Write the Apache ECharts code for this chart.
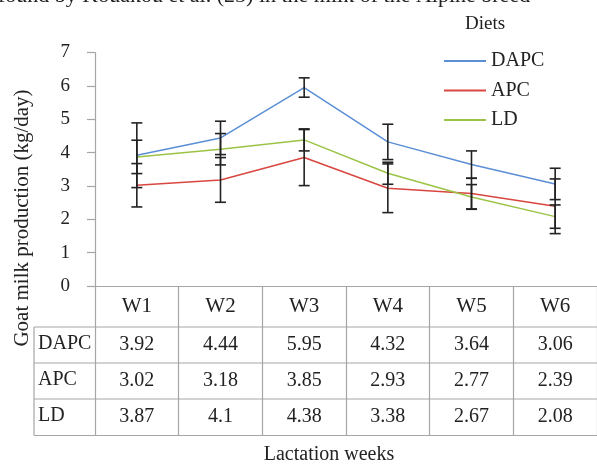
<!DOCTYPE html>
<html>
<head>
<meta charset="utf-8">
<script src="https://cdn.jsdelivr.net/npm/echarts@6/dist/echarts.min.js"></script>
<style>
html,body{margin:0;padding:0;background:#fff;}
#chart{width:597px;height:466px;}
</style>
</head>
<body>
<div id="chart"></div>
<script>
var weeks = ['W1','W2','W3','W4','W5','W6'];
var dietNames = ['DAPC','APC','LD'];
var dapc = [3.92, 4.44, 5.95, 4.32, 3.64, 3.06];
var apc  = [3.02, 3.18, 3.85, 2.93, 2.77, 2.39];
var ld   = [3.87, 4.1, 4.38, 3.38, 2.67, 2.08];
var dapcErr = [0.97, 0.50, 0.29, 0.53, 0.41, 0.47];
var apcErr  = [0.65, 0.67, 0.84, 0.73, 0.46, 0.82];
var ldErr   = [0.50, 0.47, 0.33, 0.33, 0.37, 0.35];
var yTicks = [0,1,2,3,4,5,6,7];

var FONT = 'Liberation Serif';
var colors = ['#5a8fd6', '#d9463f', '#9bc346'];
var means = [dapc, apc, ld];
var errs = [dapcErr, apcErr, ldErr];

var chart = echarts.init(document.getElementById('chart'));

function errData(m, e) {
  return m.map(function (v, i) { return [i, v - e[i], v + e[i]]; });
}
function renderErr(params, api) {
  var x = api.value(0);
  var lo = api.coord([x, api.value(1)]);
  var hi = api.coord([x, api.value(2)]);
  var w = 5.5;
  var st = { stroke: '#222', lineWidth: 1.6 };
  return {
    type: 'group',
    children: [
      { type: 'line', shape: { x1: hi[0], y1: hi[1], x2: lo[0], y2: lo[1] }, style: st },
      { type: 'line', shape: { x1: hi[0] - w, y1: hi[1], x2: hi[0] + w, y2: hi[1] }, style: st },
      { type: 'line', shape: { x1: lo[0] - w, y1: lo[1], x2: lo[0] + w, y2: lo[1] }, style: st }
    ]
  };
}

var series = [];
dietNames.forEach(function (n, k) {
  series.push({
    name: n, type: 'line', data: means[k], showSymbol: false, symbol: 'none',
    lineStyle: { color: colors[k], width: 1.5 }, itemStyle: { color: colors[k] },
    z: 2, animation: false
  });
});
dietNames.forEach(function (n, k) {
  series.push({
    name: n + ' err', type: 'custom', data: errData(means[k], errs[k]),
    renderItem: renderErr, z: 5, animation: false, silent: true
  });
});

var option = {
  animation: false,
  grid: { left: 95, top: 52.5, width: 512, height: 233.5 },
  xAxis: {
    type: 'category', data: weeks, boundaryGap: true,
    axisLine: { lineStyle: { color: '#a6a6a6', width: 1.2 } },
    axisTick: { show: true, length: 150, lineStyle: { color: '#a6a6a6', width: 1.2 } },
    axisLabel: {
      margin: 0, interval: 0,
      formatter: function (val, idx) {
        return '{h|' + val + '}\n{v|' + dapc[idx] + '}\n{v|' + apc[idx] + '}\n{v|' + ld[idx] + '}';
      },
      rich: {
        h: { fontFamily: FONT, fontSize: 21, color: '#222', lineHeight: 41 },
        v: { fontFamily: FONT, fontSize: 20, color: '#222', lineHeight: 36 }
      }
    },
    splitLine: { show: false }
  },
  yAxis: {
    type: 'value', min: 0, max: 7, interval: 1,
    axisLine: { show: true, lineStyle: { color: '#a6a6a6', width: 1.2 } },
    axisTick: { show: true, length: 8, lineStyle: { color: '#a6a6a6', width: 1.2 } },
    axisLabel: {
      margin: 25, fontFamily: FONT, fontSize: 19, color: '#222',
      formatter: function (v) { return yTicks.indexOf(v) >= 0 ? String(v) : ''; }
    },
    splitLine: { show: false }
  },
  legend: {
    data: dietNames, orient: 'vertical', left: 439, top: 46,
    icon: 'rect', itemWidth: 42, itemHeight: 2, itemGap: 9.5,
    textStyle: { fontFamily: FONT, fontSize: 20, color: '#222', lineHeight: 20 }
  },
  series: series
};
chart.setOption(option);

// table lines and texts
var base = chart.convertToPixel({ yAxisIndex: 0 }, 0);
var rowOffsets = [41, 77, 113, 149.5];
var gfx = [];
var lineSt = { stroke: '#a6a6a6', lineWidth: 1.2 };
rowOffsets.forEach(function (o) {
  gfx.push({ type: 'line', shape: { x1: 34, y1: base + o, x2: 610, y2: base + o }, style: lineSt, silent: true });
});
gfx.push({ type: 'line', shape: { x1: 34, y1: base + 41, x2: 34, y2: base + 149.5 }, style: lineSt, silent: true });
dietNames.forEach(function (n, k) {
  gfx.push({
    type: 'text', x: 38, y: base + 41 + 36 * k + 17,
    style: { text: n, fontFamily: FONT, fontSize: 20, fill: '#222', align: 'left', verticalAlign: 'middle' }, silent: true
  });
});
gfx.push({
  type: 'text', x: 485, y: 24,
  style: { text: 'Diets', fontFamily: FONT, fontSize: 19, fill: '#222', align: 'center', verticalAlign: 'middle' }
});
gfx.push({
  type: 'text', x: 329, y: 455,
  style: { text: 'Lactation weeks', fontFamily: FONT, fontSize: 20, fill: '#222', align: 'center', verticalAlign: 'middle' }
});
gfx.push({
  type: 'text', x: 22, y: 218, rotation: Math.PI / 2,
  style: { text: 'Goat milk production (kg/day)', fontFamily: FONT, fontSize: 21, fill: '#222', align: 'center', verticalAlign: 'middle' }
});
gfx.push({
  type: 'text', x: -2, y: 7,
  style: { text: 'found by Kouakou et al. (25) in the milk of the Alpine breed', fontFamily: FONT, fontSize: 22, fill: '#222', align: 'left', verticalAlign: 'bottom' }
});
chart.setOption({ graphic: gfx });
</script>
</body>
</html>
